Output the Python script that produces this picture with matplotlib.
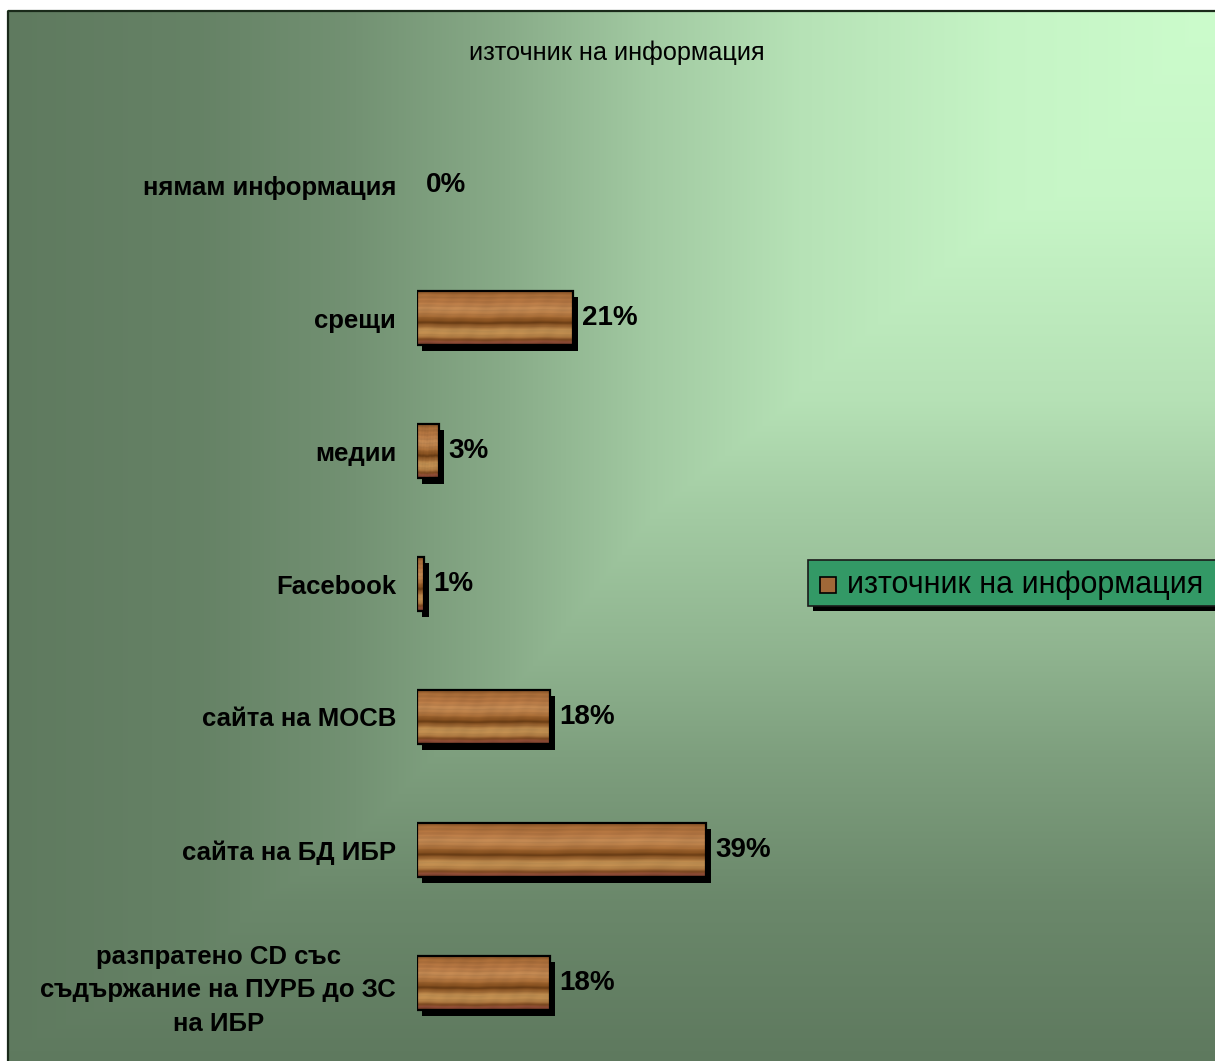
import numpy as np
import matplotlib
matplotlib.use("Agg")
import matplotlib.pyplot as plt
from matplotlib.patches import Rectangle
import matplotlib.patheffects as pe

plt.rcParams['font.family'] = ['Liberation Sans', 'DejaVu Sans']

# ---------------- data ----------------
title = "източник на информация"
series_name = "източник на информация"
categories = [
    "разпратено CD със\nсъдържание на ПУРБ до ЗС\nна ИБР",
    "сайта на БД ИБР",
    "сайта на МОСВ",
    "Facebook",
    "медии",
    "срещи",
    "нямам информация",
]
values = [18, 39, 18, 1, 3, 21, 0]
labels = ["18%", "39%", "18%", "1%", "3%", "21%", "0%"]

W, H = 1215, 1061
fig = plt.figure(figsize=(W / 100, H / 100), dpi=100)

# ---------------- background (rectangular gradient from top-right corner) ----------------
bg = fig.add_axes([0, 0, 1, 1], zorder=-10)
xs = np.arange(W)
ys = np.arange(H)
gh = np.interp(xs, [8, 200, 350, 500, 650, 800, 1000, 1215],
               [122, 130, 145, 170, 202, 226, 244, 252])
gv = np.interp(ys, [11, 200, 400, 500, 650, 750, 900, 1061],
               [252, 246, 225, 205, 180, 160, 136, 121])
G = np.minimum(gh[None, :], gv[:, None])
R = 95 + (G - 122) * 0.838
img = np.dstack([R, G, R]) / 255.0
img = np.clip(img, 0, 1)
img[:10, :, :] = 1.0
img[:, :7, :] = 1.0
bg.imshow(img, extent=[0, W, H, 0], aspect='auto', interpolation='bilinear')
bg.set_xlim(0, W)
bg.set_ylim(H, 0)
bg.axis('off')
bg.plot([7.5, W], [10.5, 10.5], color='#1a2a1a', lw=1.6, solid_capstyle='butt')
bg.plot([7.5, 7.5], [10.5, H], color='#1a2a1a', lw=1.6, solid_capstyle='butt')

fig.text(617 / W, 1 - 53 / H, title, ha='center', va='center', fontsize=18.2, color='black')

# ---------------- wood texture ----------------
def wood_texture(h=80, w=300):
    yy = np.linspace(0, 1, h)[:, None]
    xx = np.linspace(0, 1, w)[None, :]
    yw = yy + 0.005 * np.sin(2 * np.pi * (1.3 * xx + 0.2)) + 0.003 * np.sin(2 * np.pi * 4 * xx)
    pos = [0.0, 0.08, 0.22, 0.35, 0.45, 0.53, 0.60, 0.66, 0.74, 0.84, 0.91, 0.96, 1.0]
    cols = np.array([
        (0.52, 0.31, 0.14), (0.64, 0.41, 0.21), (0.70, 0.46, 0.26), (0.75, 0.53, 0.32),
        (0.69, 0.46, 0.25), (0.57, 0.35, 0.15), (0.42, 0.24, 0.08), (0.60, 0.39, 0.19),
        (0.75, 0.56, 0.32), (0.71, 0.51, 0.28), (0.50, 0.29, 0.13), (0.55, 0.29, 0.22),
        (0.42, 0.22, 0.13)])
    ywc = np.clip(yw, 0, 1)
    out = np.zeros((h, w, 3))
    for c in range(3):
        out[..., c] = np.interp(ywc, pos, cols[:, c])
    streak = 1 + 0.035 * np.sin(2 * np.pi * 13 * yw) \
               + 0.02 * np.sin(2 * np.pi * (29 * yw + 0.3 * xx)) \
               + 0.03 * np.sin(2 * np.pi * (3 * xx + 1.5 * yy)) * np.sin(2 * np.pi * 5 * xx)
    out *= streak[..., None]
    return np.clip(out, 0, 1)

tex = wood_texture()

# ---------------- main axes ----------------
px_per_unit = 7.41
xmax = 60
ax = fig.add_axes([417 / W, (H - 1049.5) / H, xmax * px_per_unit / W, 931 / H])
ax.set_facecolor('none')
ypos = np.arange(len(categories))
bar_h = 0.41

lws = [0 if v == 0 else 1.6 for v in values]
bars = ax.barh(ypos, values, height=bar_h, color='#a06838', edgecolor='none', zorder=2)
for b, v in zip(bars, values):
    if v > 0:
        b.set_path_effects([pe.SimplePatchShadow(offset=(3.6, -4.4), shadow_rgbFace='black', alpha=1.0, rho=1.0),
                            pe.Normal()])
        x0, y0 = b.get_x(), b.get_y()
        im = ax.imshow(tex, extent=[x0, x0 + b.get_width(), y0, y0 + b.get_height()],
                       aspect='auto', zorder=3, interpolation='bilinear')
        im.set_clip_path(b)
edges = ax.barh(ypos, values, height=bar_h, fill=False, edgecolor='black', linewidth=lws, zorder=4)
ax.set_xlim(0, xmax)
ax.set_ylim(-0.5, len(categories) - 0.5)

ax.bar_label(edges, labels=labels, padding=6.5, fontsize=20, fontweight='bold', color='black')

ax.set_yticks(ypos)
ax.set_yticklabels(categories, fontsize=18.5, fontweight='bold', ha='right',
                   multialignment='center', linespacing=1.5)
ax.tick_params(axis='y', length=0, pad=15)
ax.set_xticks([])
for s in ax.spines.values():
    s.set_visible(False)

# ---------------- legend (manual) ----------------
lx0, ly0, lx1, ly1 = 808, 560, 1240, 606
shadow = Rectangle((lx0 + 5, H - ly1 - 5), lx1 - lx0, ly1 - ly0, transform=None,
                   facecolor='black', edgecolor='none', zorder=5)
box = Rectangle((lx0, H - ly1), lx1 - lx0, ly1 - ly0, transform=None,
                facecolor='#339966', edgecolor='#1a1a1a', linewidth=1.2, zorder=6)
fig.add_artist(shadow)
fig.add_artist(box)
sq = Rectangle((820, H - 593), 16, 16, transform=None, facecolor='#a06838',
               edgecolor='black', linewidth=1.2, zorder=7)
fig.add_artist(sq)
fig.text(847 / W, 1 - 585 / H, series_name, ha='left', va='center', fontsize=22,
         color='black', zorder=8)

fig.savefig("out.png", dpi=100)
